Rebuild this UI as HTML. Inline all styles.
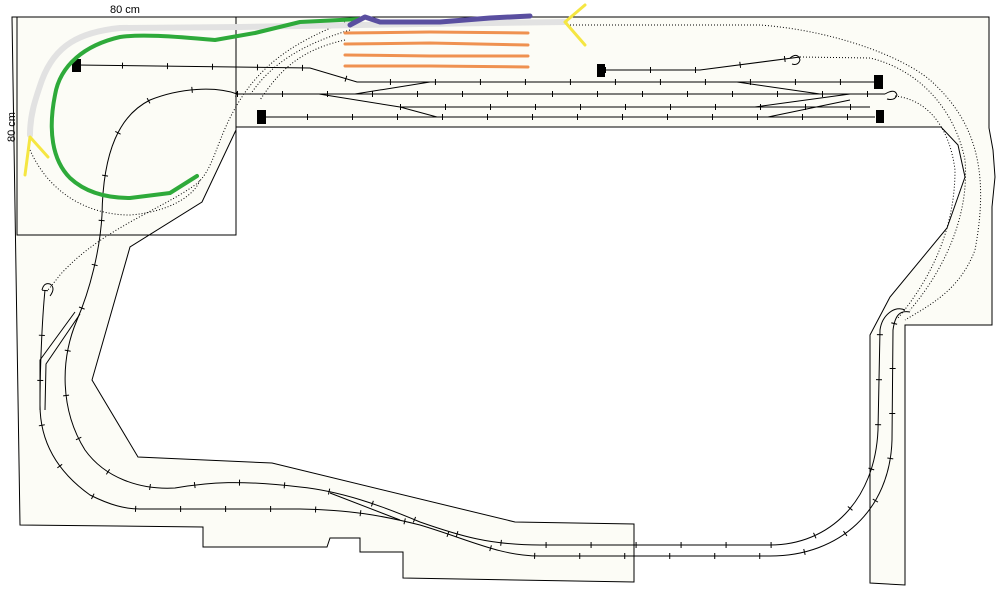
<!DOCTYPE html>
<html><head><meta charset="utf-8"><style>
html,body{margin:0;padding:0;background:#fff;}
svg{display:block;}
text{font-family:"Liberation Sans",sans-serif;font-size:11px;fill:#000;}
</style></head><body>
<svg width="1000" height="591" viewBox="0 0 1000 591" xmlns="http://www.w3.org/2000/svg">
<defs>
<path id="yA" d="M77,65 L310,68 L357,82 L875,82"/>
<path id="yB" d="M237,94 L885,94"/>
<path id="yC" d="M400,107 L870,107"/>
<path id="yD" d="M262,117 L875,117"/>
<path id="yE" d="M605,70 L700,70 L800,57"/>
<path id="mI" d="M237,94 C215,86 180,88 150,100 C120,115 103,150 102,215 C100,250 90,290 77,320 C60,360 60,410 85,450 C105,478 140,490 175,488 C210,482 240,480 300,487 C340,491 380,505 420,522 C460,536 490,545 540,545 L770,545 C830,545 875,500 878,430 L880,330 C882,315 895,305 905,310"/>
<path id="mO" d="M45,290 C42,320 40,370 40,405 C40,440 55,470 90,495 C110,505 125,509 140,509 L300,509 C350,510 380,515 420,525 C470,540 500,556 540,556 L770,556 C840,556 890,510 892,440 L893,330 C895,315 900,310 910,312"/>
</defs>
<!-- baseboard -->
<path d="M12,17 L989,17 L989,128 L993,150 L995,177 L992,207 L992,325 L905,325 L905,585 L870,583 L870,335 L890,297 L947,228 L965,177 L958,145 L941,127 L236,127 L236,130 L202,202 L130,247 L92,380 L138,457 L272,463 L515,522 L634,524 L634,582 L403,578 L403,552 L360,552 L360,538 L330,538 L327,547 L203,547 L203,527 L20,525 Z" fill="#fcfcf6" stroke="#000" stroke-width="1"/>
<rect x="17" y="17" width="219" height="218" fill="none" stroke="#000" stroke-width="1"/>
<text x="110" y="13">80 cm</text>
<text transform="translate(15,142) rotate(-90)">80 cm</text>

<g fill="none" stroke="#000" stroke-width="1">
<use href="#yA"/><use href="#yB"/><use href="#yC"/><use href="#yD"/><use href="#yE"/>
<use href="#mI"/><use href="#mO"/>
<path d="M319,94 L400,107 L437,117"/>
<path d="M355,94 L430,82"/>
<path d="M737,82 L820,94"/>
<path d="M755,107 L850,94"/>
<path d="M768,117 L850,100"/>
<path d="M790,58 q8,-6 10,2 q-2,6 -8,4"/>
<path d="M885,94 q10,-6 12,1 q-2,6 -10,4"/>
<path d="M42,290 q2,-8 8,-6 q6,4 0,12"/>
<path d="M75,312 L40,360 L40,410"/>
<path d="M80,314 L46,364 L45,410"/>
<path d="M330,493 L400,520"/>
</g>
<!-- ticks -->
<g fill="none" stroke="#000" stroke-width="6" stroke-dasharray="1,44">
<use href="#yA"/><use href="#yB"/><use href="#yC"/><use href="#yD"/><use href="#yE"/>
<use href="#mI"/><use href="#mO"/>
</g>
<!-- dotted -->
<g fill="none" stroke="#000" stroke-width="1" stroke-dasharray="1,2">
<path d="M345,22 C300,40 265,60 240,100 C215,140 215,170 195,185 C160,210 100,230 60,275 L48,290"/>
<path d="M350,30 C300,45 270,65 250,95"/>
<path d="M345,40 C300,50 280,70 260,100"/>
<path d="M30,150 C50,195 90,215 130,215 C170,212 195,195 200,180"/>
<path d="M570,25 L760,25 C830,30 900,55 930,80 C975,120 990,170 975,250 C960,290 930,305 905,320"/>
<path d="M800,57 L870,58 C920,70 955,110 965,160 C970,220 940,275 910,310"/>
<path d="M895,96 C930,100 950,130 955,170 C955,230 930,280 898,318"/>
<path d="M345,33 L528,33 M345,44 L528,44 M345,55 L528,55 M345,66 L528,66"/>
</g>
<!-- blocks -->
<g fill="#000">
<rect x="72" y="59" width="9" height="13"/>
<rect x="597" y="64" width="8" height="13"/>
<rect x="874" y="75" width="9" height="14"/>
<rect x="876" y="110" width="8" height="13"/>
<rect x="257" y="110" width="9" height="14"/>
</g>
<!-- colored marks -->
<g fill="none" stroke-linecap="round" stroke-linejoin="round">
<path d="M565,22 L420,24 L240,27 L120,28 C80,32 55,45 42,80 C35,100 30,115 30,135" stroke="#e2e2e2" stroke-width="6"/>
<path d="M360,19 L300,22 L255,33 L215,40 C170,36 140,34 120,37 C85,45 60,65 55,95 C48,130 52,160 70,178 C85,192 105,198 130,198 L170,193 L197,176" stroke="#2eaa3a" stroke-width="4"/>
<path d="M350,25 L365,17 L380,22 L440,22 L490,18 L530,16" stroke="#5a4fa0" stroke-width="5"/>
<path d="M345,33 L430,32 L528,33 M345,44 L430,43 L528,45 M345,55 L430,56 L528,56 M345,66 L430,66 L528,67" stroke="#ef9150" stroke-width="3"/>
<path d="M585,5 L565,22 L585,45 M25,175 L30,137 L48,157" stroke="#f5e642" stroke-width="3"/>
</g>
</svg>
</body></html>
